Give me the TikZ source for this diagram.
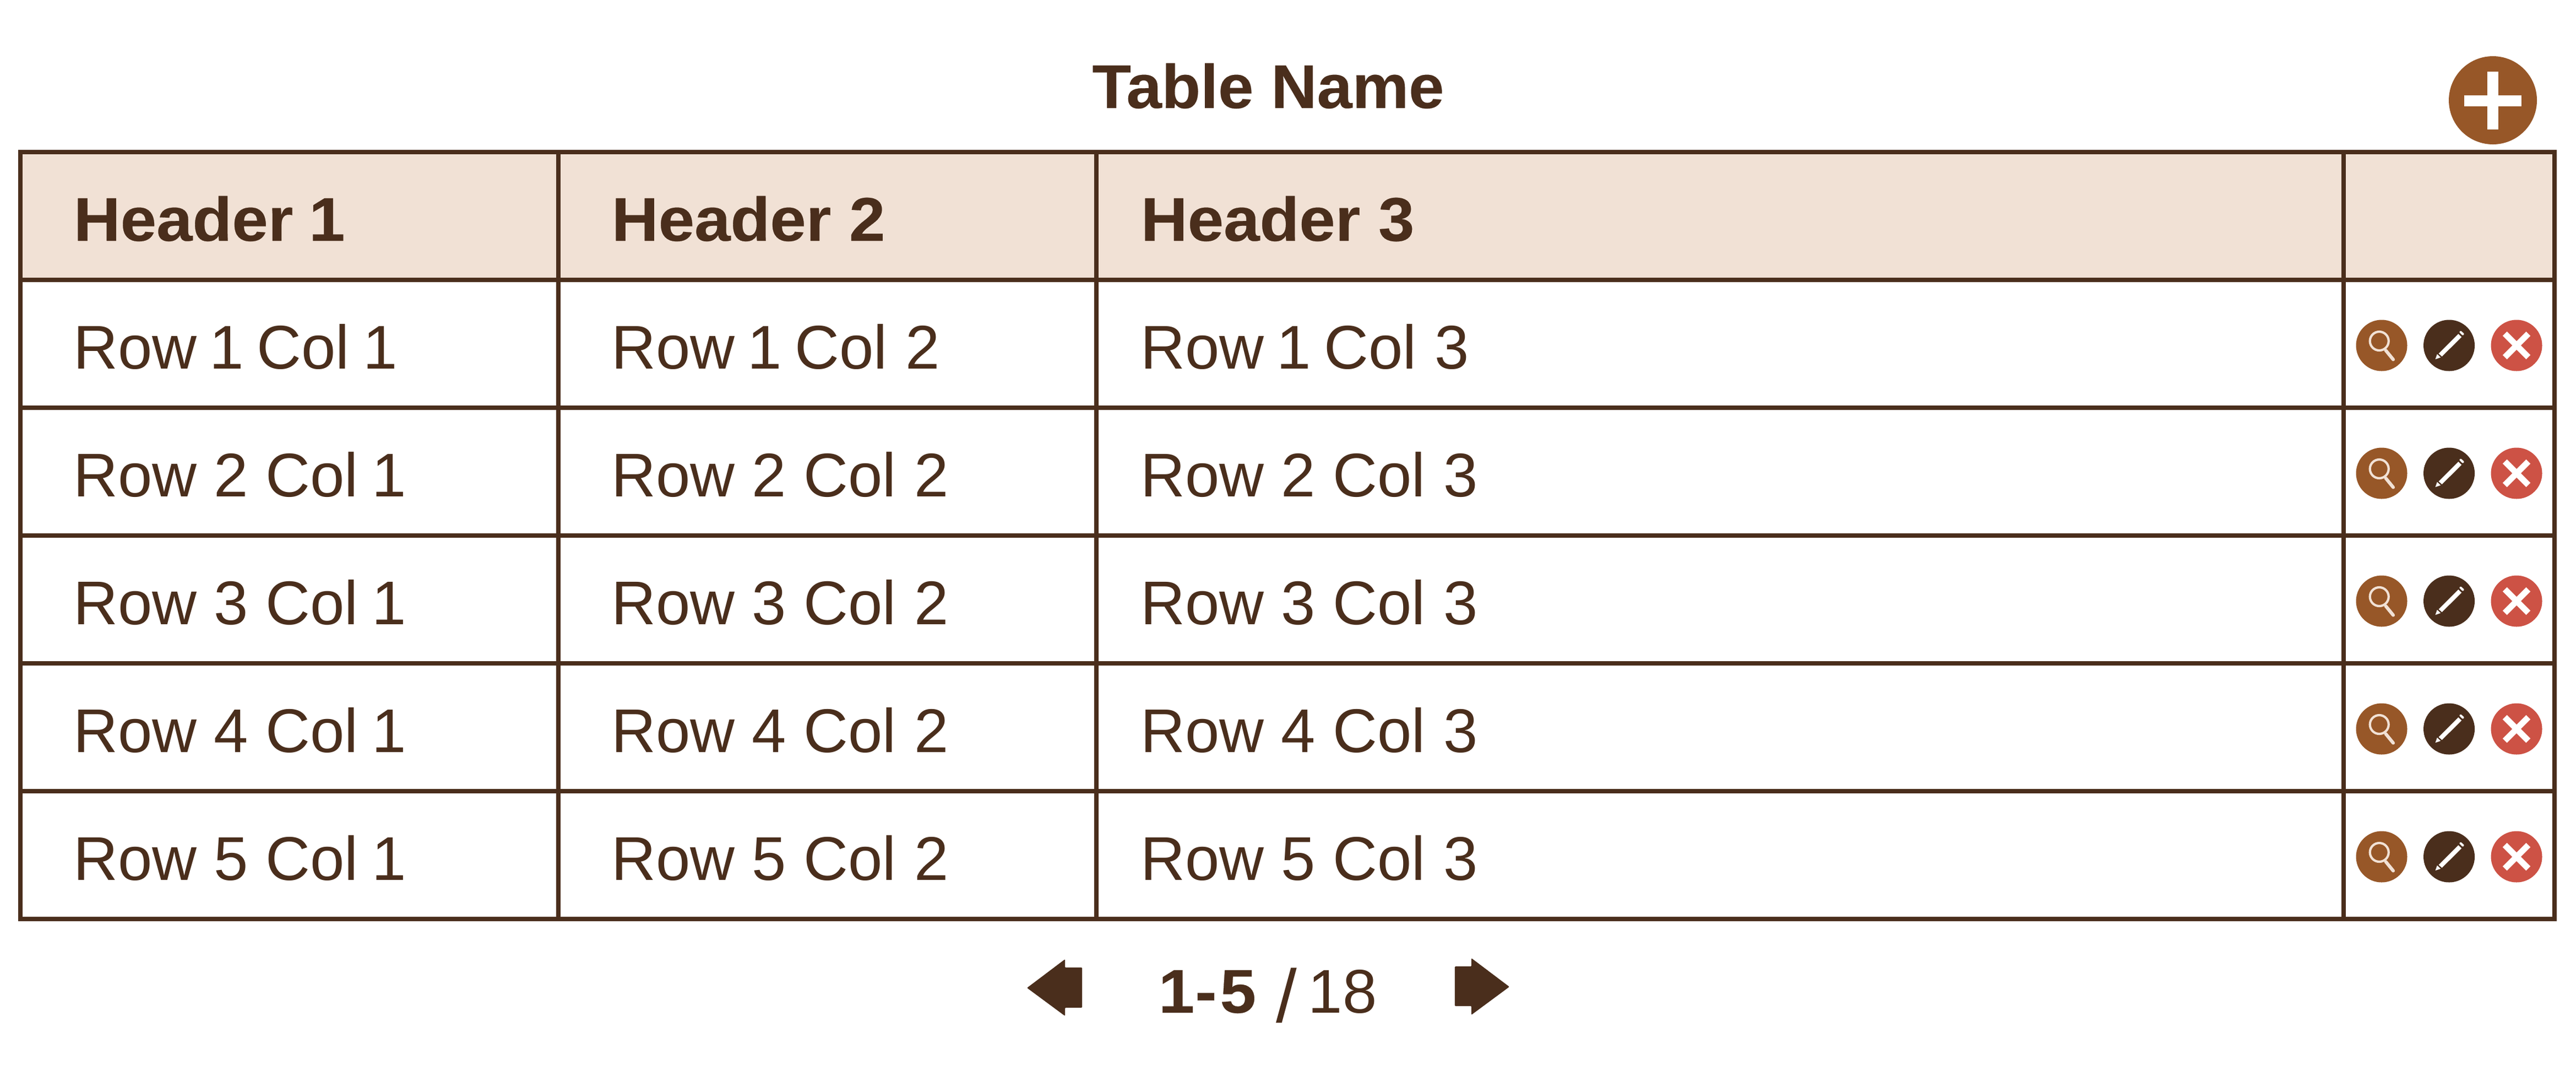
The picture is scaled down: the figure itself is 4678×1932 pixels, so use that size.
\documentclass[tikz,border=0pt]{standalone}
\usepackage{fontspec}
\setmainfont{Liberation Sans}
\newfontfamily\hdfam{Liberation Sans}[BoldFeatures={FakeStretch=1.05,FakeBold=0.25}]
\newfontfamily\ttlfam{Liberation Sans}[BoldFeatures={FakeStretch=1.03,FakeBold=0.25}]
\definecolor{ink}{HTML}{4A2E1C}
\definecolor{headfill}{HTML}{F1E1D5}
\definecolor{rust}{HTML}{975728}
\definecolor{redx}{HTML}{CD5245}
\newcommand{\regfont}{\fontsize{28}{32}\selectfont}
\newcommand{\hdfont}{\hdfam\fontsize{28}{32}\selectfont\bfseries}
% the reference's digit 1 is set narrower than the other digits
\newcommand{\narrowone}{\kern-2pt 1\kern-2pt\relax}
\newcommand{\lastone}{\kern-1.4pt 1}
\newcommand{\rowdigit}[1]{\ifnum#1=1 \narrowone\else #1\fi}
\tikzset{
  x=0.25pt,y=-0.25pt,
  grid/.style={draw=ink,line width=2pt},
  celltext/.style={anchor=base west,inner sep=0pt,text=ink,font=\regfont},
  headtext/.style={anchor=base west,inner sep=0pt,text=ink,font=\hdfont},
  iconbg/.style={circle,minimum size=23.25pt,inner sep=0pt,fill=#1},
}
\begin{document}
\begin{tikzpicture}
\useasboundingbox (0,0) rectangle (4678,1932);
\fill[white] (0,0) rectangle (4678,1932);
\fill[headfill] (37,276) rectangle (4639,508);
% grid
\foreach \yy in {276,508,740,972,1204,1436,1668}{\draw[grid] (33,\yy) -- (4643,\yy);}
\foreach \xx in {37,1014,1991,4256,4639}{\draw[grid] (\xx,272) -- (\xx,1672);}
% title
\node[headtext,anchor=base,font=\ttlfam\fontsize{28}{32}\selectfont\bfseries] (title) at (2303,196) {Table Name};
% add button
\node[circle,minimum size=40pt,inner sep=0pt,fill=rust] (add) at (4527,182) {};
\fill[white] (4475,172.5) rectangle (4579,192.5);
\fill[white] (4517,130) rectangle (4537,235);
% headers
\node[headtext] (h1) at (133,437) {Header \kern-1pt 1};
\node[headtext] (h2) at (1110,437) {Header 2};
\node[headtext] (h3) at (2071,437) {Header 3};
% rows
\foreach \r in {1,...,5}{
  \pgfmathsetmacro{\by}{669+232*(\r-1)}
  \pgfmathsetmacro{\cy}{627+232*(\r-1)}
  \node[celltext] (r\r c1) at (133,\by) {Row \rowdigit{\r} Col \lastone};
  \node[celltext] (r\r c2) at (1110,\by) {Row \rowdigit{\r} Col \kern0.5pt 2};
  \node[celltext] (r\r c3) at (2071,\by) {Row \rowdigit{\r} Col \kern0.5pt 3};
  % view
  \node[iconbg=rust] (view\r) at (4325,\cy) {};
  \begin{scope}[shift={(view\r.center)}]
    \draw[headfill,line width=1.05pt] (-4.3,-8) circle (17);
    \draw[headfill,line width=1.5pt,line cap=round] (7.5,9) -- (21,25.5);
  \end{scope}
  % edit
  \node[iconbg=ink] (edit\r) at (4447.5,\cy) {};
  \begin{scope}[shift={(edit\r.center)}]
    \fill[white] (-19,14.7) -- (-13,20) -- (22.7,-15.3) -- (16.7,-21) -- cycle;
    \fill[white,rounded corners=0.3pt] (18.3,-24.3) -- (21,-27) -- (27.7,-21) -- (25,-17.7) -- cycle;
    \fill[white] (-25,25) -- (-21.7,15.7) -- (-15.3,21.7) -- cycle;
  \end{scope}
  % delete
  \node[iconbg=redx] (del\r) at (4570,\cy) {};
  \begin{scope}[shift={(del\r.center)}]
    \draw[white,line width=2.75pt] (-21.3,-21.3) -- (21.3,21.3);
    \draw[white,line width=2.75pt] (-21.3,21.3) -- (21.3,-21.3);
  \end{scope}
}
% pagination
\fill[ink,rounded corners=0.3pt] (1865,1793) -- (1934,1741) -- (1934,1756) -- (1965,1756) -- (1965,1829) -- (1934,1829) -- (1934,1844) -- cycle;
\fill[ink,rounded corners=0.3pt] (2741,1791) -- (2672,1739) -- (2672,1754) -- (2642,1754) -- (2642,1826) -- (2672,1826) -- (2672,1842) -- cycle;
\node[headtext] (pagea) at (2103,1838) {1\kern0.3pt-\kern1.5pt 5};
\node[celltext,font=\fontsize{34}{38}\selectfont] (pageb) at (2317,1855) {/};
\node[celltext] (pagec) at (2375,1838) {18};
\end{tikzpicture}
\end{document}
